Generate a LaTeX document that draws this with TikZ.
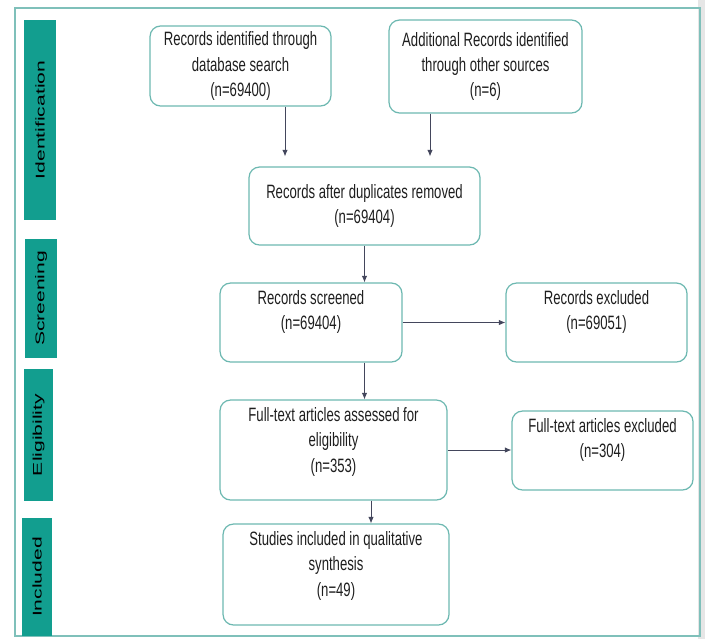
\documentclass[tikz,border=0pt]{standalone}
\usepackage{fontspec}
\setmainfont{Liberation Sans}
\newfontfamily\narrowfont{Liberation Sans}[FakeStretch=0.68]
\usepackage{xcolor}
\usetikzlibrary{arrows.meta, positioning, calc}
\definecolor{tealbar}{HTML}{129E8F}
\definecolor{boxedge}{HTML}{6DB8B1}
\definecolor{frameline}{HTML}{7FC0BA}
\definecolor{arrowink}{HTML}{43465C}
\definecolor{textink}{HTML}{1E1E1E}
\definecolor{sidegray}{HTML}{E6E6E6}

\begin{document}
\begin{tikzpicture}[x=0.02cm, y=-0.02cm,
  box/.style={draw=boxedge, line width=0.7pt, rounded corners=6pt, align=center, text=textink,
    font=\narrowfont\fontsize{11}{14.5}\selectfont, inner sep=0pt},
  toptext/.style={anchor=north, yshift=-0.15cm, align=center, text=textink,
    font=\narrowfont\fontsize{11}{14.5}\selectfont, inner sep=0pt},
  phase/.style={fill=tealbar, rotate=90, inner sep=0pt, text=black, font=\fontsize{12}{14}\selectfont},
  link/.style={draw=arrowink, line width=0.5pt, -{Latex[length=1.3mm, width=1.1mm]}}
]
\useasboundingbox (0,0) rectangle (705,639);
\fill[sidegray] (698,0) rectangle (705,639);
\draw[frameline, line width=0.7pt] (15,8) rectangle (700,636);

% phase bars
\node[phase, minimum width=4cm,    minimum height=0.64cm] (ident)  at (40,120)    {\scalebox{1}[0.6]{Identification}};
\node[phase, minimum width=2.38cm, minimum height=0.64cm] (screenbar) at (41,298.5) {\scalebox{1}[0.6]{Screening}};
\node[phase, minimum width=2.64cm, minimum height=0.58cm] (eligbar) at (38.5,435) {\scalebox{1}[0.6]{Eligibility}};
\node[phase, minimum width=2.36cm, minimum height=0.60cm] (inclbar) at (37,577)   {\scalebox{1}[0.6]{Included}};

% boxes
\node[box, minimum width=3.62cm, minimum height=1.6cm]  (search) at (240.5,66)  {Records identified through\\database search\\(n=69400)};
\node[box, minimum width=3.86cm, minimum height=1.86cm] (other)  at (485.5,66.5) {Additional Records identified\\through other sources\\(n=6)};
\node[box, minimum width=4.62cm, minimum height=1.56cm] (dup)    at (364.5,206) {Records after duplicates removed\\(n=69404)};
\node[box, minimum width=3.64cm, minimum height=1.58cm,
  label={[toptext]north:{Records screened\\(n=69404)}}] (screen) at (311,322.5) {};
\node[box, minimum width=3.62cm, minimum height=1.58cm,
  label={[toptext]north:{Records excluded\\(n=69051)}}] (excl) at (596.5,322.5) {};
\node[box, minimum width=4.54cm, minimum height=2.0cm,
  label={[toptext]north:{Full-text articles assessed for\\eligibility\\(n=353)}}] (full) at (333.5,450) {};
\node[box, minimum width=3.62cm, minimum height=1.58cm,
  label={[toptext]north:{Full-text articles excluded\\(n=304)}}] (fullexcl) at (602.5,450.5) {};
\node[box, minimum width=4.52cm, minimum height=2.02cm,
  label={[toptext]north:{Studies included in qualitative\\synthesis\\(n=49)}}] (incl) at (336,574.5) {};

% connectors
\coordinate (colA) at (285,0);
\coordinate (colB) at (430,0);
\coordinate (colC) at (371,0);
\draw[link, shorten >=0.2cm] (search.south -| colA) -- (dup.north -| colA);
\draw[link, shorten >=0.2cm] (other.south -| colB) -- (dup.north -| colB);
\draw[link] (dup.south) -- (dup.south |- screen.north);
\draw[link] (screen.south -| dup.south) -- (full.north -| dup.south);
\draw[link] (screen.east) -- (excl.west);
\draw[link] (full.east) -- (full.east -| fullexcl.west);
\draw[link] (full.south -| colC) -- (incl.north -| colC);
\end{tikzpicture}
\end{document}
